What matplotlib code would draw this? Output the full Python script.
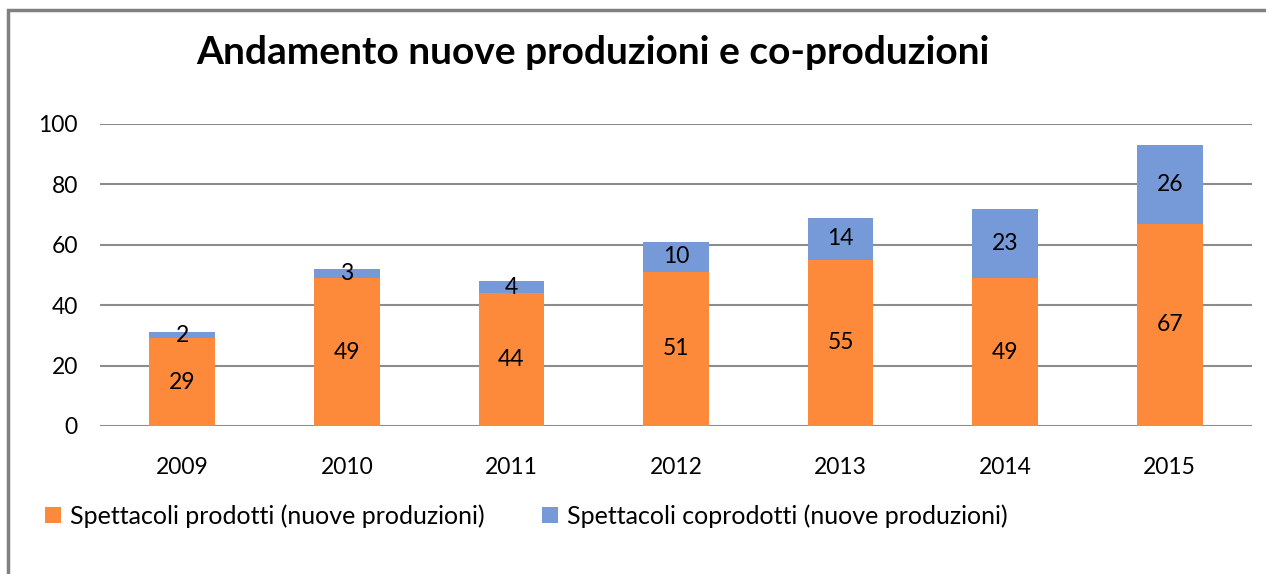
import matplotlib.pyplot as plt
import numpy as np
from matplotlib.patches import Rectangle

plt.rcParams['font.family'] = ['Lato', 'DejaVu Sans']

years = ['2009', '2010', '2011', '2012', '2013', '2014', '2015']
prodotti = [29, 49, 44, 51, 55, 49, 67]
coprodotti = [2, 3, 4, 10, 14, 23, 26]

c_orange = '#FD8A3A'
c_blue = '#7699D8'

fig = plt.figure(figsize=(12.66, 5.74), dpi=100)
ax = fig.add_axes([100/1266, 1-426/574, 1152/1266, 302/574])

# outer chart border
fig.patches.append(Rectangle((8/1266, -0.05), 1.1, 1-10/574+0.05, transform=fig.transFigure,
                             fill=False, edgecolor='#808080', linewidth=2.5))

x = np.arange(len(years))
b1 = ax.bar(x, prodotti, width=0.4, color=c_orange, zorder=3,
            label='Spettacoli prodotti (nuove produzioni)')
b2 = ax.bar(x, coprodotti, width=0.4, bottom=prodotti, color=c_blue, zorder=3,
            label='Spettacoli coprodotti (nuove produzioni)')

for i in range(len(years)):
    ax.text(x[i], prodotti[i]/2, str(prodotti[i]), ha='center', va='center', fontsize=16.5, zorder=4)
    ax.text(x[i], prodotti[i] + coprodotti[i]/2, str(coprodotti[i]), ha='center', va='center',
            fontsize=16.5, zorder=4)

ax.set_xlim(-0.5, len(years)-0.5)
ax.set_ylim(0, 100)
ax.set_yticks([0, 20, 40, 60, 80, 100])
ax.set_xticks(x)
ax.set_xticklabels(years)
ax.tick_params(labelsize=16.5, length=0)
ax.tick_params(axis='y', pad=16)
ax.tick_params(axis='x', pad=22)
ax.grid(axis='y', color='#8c8c8c', linewidth=1.5, zorder=0)
for s in ax.spines.values():
    s.set_visible(False)

fig.text(593/1266, 1-52/574, 'Andamento nuove produzioni e co-produzioni',
         ha='center', va='center', fontsize=28, fontweight='bold')

fig.legend(handles=[b1, b2], loc='center left', bbox_to_anchor=(22/1266, 1-516/574),
           ncol=2, frameon=False, fontsize=18, handlelength=0.65, handleheight=0.65,
           handletextpad=0.35, columnspacing=2.3)

plt.savefig('out.png', dpi=100)
